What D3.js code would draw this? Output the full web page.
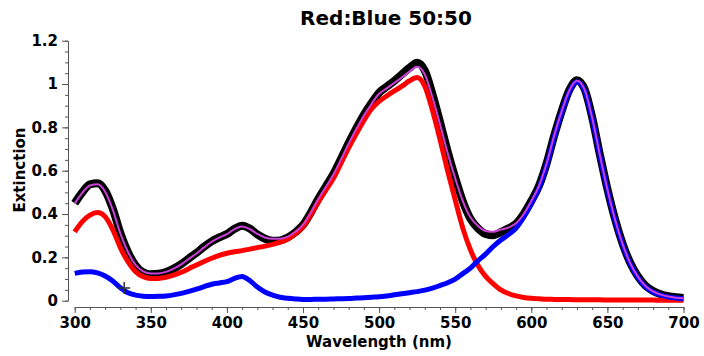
<!DOCTYPE html>
<html>
<head>
<meta charset="utf-8">
<script src="https://cdn.jsdelivr.net/npm/d3@7"></script>
<style>
  body { margin: 0; background: #fff; }
  text { font-family: "DejaVu Sans", sans-serif; font-weight: bold; }
</style>
</head>
<body>
<div id="svg"></div>
<script>
// wavelength grid (nm)
const wavelengths = [300, 305, 310, 315, 320, 325, 330, 335, 340, 345, 350, 355, 360, 365, 370, 375, 380, 385, 390, 395,
  400, 405, 410, 415, 420, 425, 430, 435, 440, 445, 450, 455, 460, 465, 470, 475, 480, 485, 490, 495,
  500, 505, 510, 515, 520, 525, 530, 535, 540, 545, 550, 555, 560, 565, 570, 575, 580, 585, 590, 595,
  600, 605, 610, 615, 620, 625, 630, 635, 640, 645, 650, 655, 660, 665, 670, 675, 680, 685, 690, 695, 700];

// measured mixture (black)
const measured = [.450, .500, .537, .542, .508, .425, .312, .224, .163, .131, .122, .124, .132, .148, .169, .195, .221, .249, .274, .292,
  .308, .332, .346, .333, .306, .286, .277, .278, .292, .316, .349, .405, .469, .527, .585, .655, .728, .795, .858, .912,
  .960, .988, 1.015, 1.045, 1.075, 1.098, 1.062, .955, .825, .690, .568, .458, .378, .334, .308, .302, .316, .334, .355, .400,
  .460, .529, .632, .761, .876, .972, 1.018, .977, .846, .676, .516, .377, .263, .175, .113, .070, .045, .030, .021, .016, .013];

// red component
const redComp = [.318, .365, .395, .407, .388, .328, .245, .180, .134, .111, .103, .103, .108, .118, .131, .148, .165, .181, .196, .209,
  .219, .226, .231, .238, .245, .252, .260, .270, .285, .310, .342, .395, .455, .510, .565, .635, .705, .770, .832, .885,
  .920, .945, .968, .990, 1.015, 1.030, .990, .880, .745, .600, .465, .335, .235, .162, .112, .078, .050, .033, .022, .015,
  .011, .009, .007, .006, .005, .005, .004, .004, .004, .004, .003, .003, .003, .003, .003, .003, .003, .002, .002, .002, .002];

// blue component
const blueComp = [.126, .132, .134, .128, .114, .091, .060, .037, .026, .021, .019, .020, .022, .027, .034, .043, .053, .065, .076, .082,
  .088, .103, .112, .093, .063, .040, .026, .016, .011, .008, .006, .006, .007, .007, .008, .009, .010, .012, .014, .016,
  .018, .022, .027, .032, .037, .042, .049, .058, .070, .083, .100, .125, .150, .185, .215, .250, .280, .305, .335, .385,
  .449, .520, .625, .755, .870, .965, 1.011, .970, .840, .670, .511, .372, .258, .170, .108, .065, .040, .026, .017, .012, .009];

// fitted sum (magenta)
const fitSum = [.448, .498, .532, .537, .503, .420, .310, .225, .165, .135, .125, .126, .133, .148, .168, .193, .218, .246, .272, .291,
  .307, .330, .343, .331, .308, .292, .286, .286, .296, .318, .350, .405, .468, .525, .582, .652, .725, .792, .855, .908,
  .955, .980, 1.005, 1.030, 1.058, 1.080, 1.045, .940, .815, .683, .565, .460, .385, .345, .322, .318, .328, .338, .357, .400,
  .460, .529, .632, .761, .875, .970, 1.015, .974, .844, .674, .514, .375, .261, .173, .111, .068, .043, .028, .019, .014, .011];

// cursor marker
const cursorPoint = [332.5, 0.059];

// ticks
const xTicks = [300, 350, 400, 450, 500, 550, 600, 650, 700];
const xMinorTicks = [300, 310, 320, 330, 340, 350, 360, 370, 380, 390, 400, 410, 420, 430, 440, 450, 460, 470, 480, 490,
  500, 510, 520, 530, 540, 550, 560, 570, 580, 590, 600, 610, 620, 630, 640, 650, 660, 670, 680, 690, 700];
const yTicks = [0, 0.2, 0.4, 0.6, 0.8, 1, 1.2];
const yTickLabels = ["0", "0.2", "0.4", "0.6", "0.8", "1", "1.2"];
const yMinorTicks = [0, 0.05, 0.1, 0.15, 0.2, 0.25, 0.3, 0.35, 0.4, 0.45, 0.5, 0.55, 0.6, 0.65, 0.7, 0.75, 0.8, 0.85,
  0.9, 0.95, 1, 1.05, 1.1, 1.15, 1.2];

// setup svg component
const width = 704,
      height = 356;

const svg = d3.select("#svg")
  .append("svg")
  .attr("width", width)
  .attr("height", height);

svg.append("rect")
  .attr("width", width)
  .attr("height", height)
  .attr("fill", "#fff");

const xScale = d3.scaleLinear()
  .domain([300, 700])
  .range([74.7, 683.5]);

const yScale = d3.scaleLinear()
  .domain([0, 1.2])
  .range([300.7, 40.7]);

const axisColor = "#555";

// x axis (offset below plot)
const xAxisY = 307;
svg.append("g")
  .attr("transform", "translate(0, " + xAxisY + ")")
  .call(d3.axisBottom(xScale).tickValues(xMinorTicks).tickFormat("").tickSize(3).tickSizeOuter(0));
svg.append("g")
  .attr("transform", "translate(0, " + xAxisY + ")")
  .call(d3.axisBottom(xScale).tickValues(xTicks).tickFormat(d3.format("d")).tickSize(6).tickSizeOuter(0).tickPadding(4));

// y axis (offset left of plot)
const yAxisX = 68;
svg.append("g")
  .attr("transform", "translate(" + yAxisX + ", 0)")
  .call(d3.axisLeft(yScale).tickValues(yMinorTicks).tickFormat("").tickSize(3).tickSizeOuter(0));
svg.append("g")
  .attr("transform", "translate(" + yAxisX + ", 0)")
  .call(d3.axisLeft(yScale).tickValues(yTicks).tickFormat((d, i) => yTickLabels[i]).tickSize(6).tickSizeOuter(0).tickPadding(4));

svg.selectAll(".domain, .tick line").attr("stroke", axisColor);
svg.selectAll(".tick text")
  .attr("fill", "#000")
  .style("font-size", "15px")
  .style("font-family", "'DejaVu Sans', sans-serif")
  .style("font-weight", "bold");

// lines
const makeLine = (values) => d3.line()
  .x((d, i) => xScale(wavelengths[i]))
  .y((d) => yScale(d))
  .curve(d3.curveMonotoneX)(values);

const series = [
  { values: measured, color: "#000", w: 8 },
  { values: redComp, color: "#ff0000", w: 5 },
  { values: blueComp, color: "#0000ff", w: 5 },
  { values: fitSum, color: "#cc40d8", w: 2 }
];

svg.selectAll("path.series")
  .data(series)
  .enter()
  .append("path")
  .attr("class", "series")
  .attr("d", (d) => makeLine(d.values))
  .attr("fill", "none")
  .attr("stroke", (d) => d.color)
  .attr("stroke-width", (d) => d.w)
  .attr("stroke-linejoin", "round");

// cursor cross
const cx = xScale(cursorPoint[0]), cy = yScale(cursorPoint[1]);
svg.append("path")
  .attr("d", "M" + (cx - 6) + "," + cy + "H" + (cx + 6) + "M" + cx + "," + (cy - 6) + "V" + (cy + 6))
  .attr("stroke", "#333")
  .attr("stroke-width", 1.5);

// title
svg.append("text")
  .attr("x", 386)
  .attr("y", 25)
  .attr("text-anchor", "middle")
  .style("font-size", "20px")
  .text("Red:Blue 50:50");

// x label
svg.append("text")
  .attr("x", 379)
  .attr("y", 346.5)
  .attr("text-anchor", "middle")
  .style("font-size", "15px")
  .text("Wavelength (nm)");

// y label
svg.append("text")
  .attr("transform", "translate(25, 170) rotate(-90)")
  .attr("text-anchor", "middle")
  .style("font-size", "15px")
  .text("Extinction");
</script>
</body>
</html>
